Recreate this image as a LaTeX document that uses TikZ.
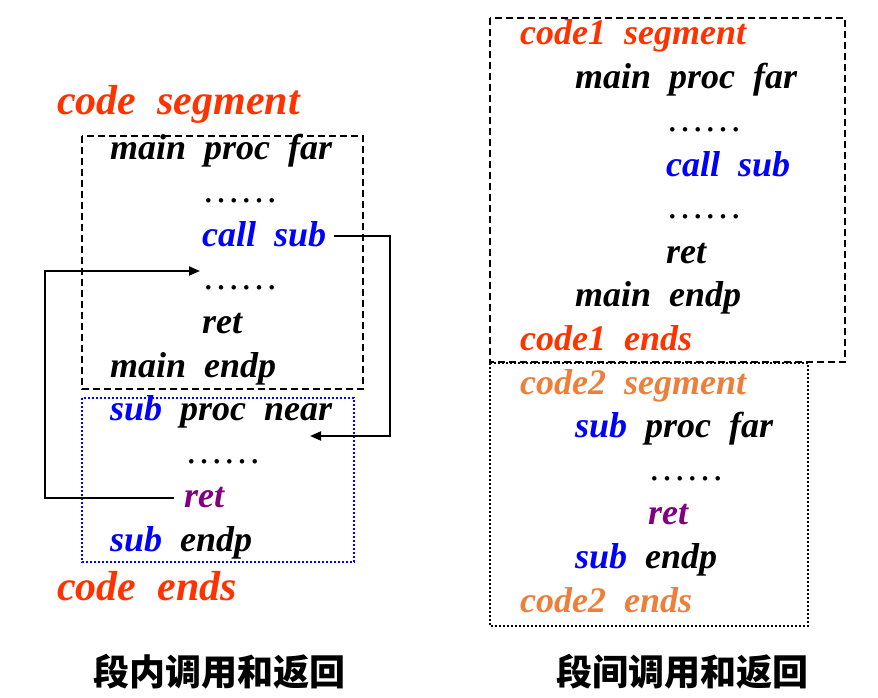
\documentclass[tikz,border=0pt]{standalone}
\usepackage{fontspec}
\setmainfont{Liberation Serif}
\newfontfamily\cjk{Noto Sans CJK SC}
\usetikzlibrary{arrows.meta}
\definecolor{segred}{HTML}{FF3300}
\definecolor{segorange}{HTML}{EE7F3A}
\definecolor{kwblue}{HTML}{0000FF}
\definecolor{retpurple}{HTML}{800080}
\newcommand\gap{\hspace{0.5em}}
\begin{document}
\begin{tikzpicture}[x=1pt,y=-1pt,
  code/.style={anchor=base west, inner sep=0pt, font=\fontsize{36}{40}\selectfont\bfseries\itshape},
  bigcode/.style={code, font=\fontsize{42}{46}\selectfont\bfseries\itshape},
  dotsline/.style={code, font=\fontsize{38}{40}\selectfont},
  caption/.style={inner sep=0pt, font=\cjk\bfseries\fontsize{36}{40}\selectfont},
  dashbox/.style={draw=black, line width=1.6pt, dash pattern=on 7pt off 4pt},
  dotbox/.style={line width=2pt, dash pattern=on 2pt off 2pt},
  arr/.style={draw=black, line width=1.8pt, -{Triangle[length=11pt,width=9pt]}}]
\useasboundingbox (0,0) rectangle (878,698);

% ---------- left ----------
\draw[dashbox] (82,136) rectangle (363,389);
\draw[dotbox, draw=kwblue] (82,398) rectangle (354,562);

\node[bigcode, text=segred] (lseg) at (57,115) {code\gap segment};
\node[code] (lmain) at (110,159.5) {main\gap proc\gap far};
\node[dotsline] (ldots1) at (202,202.5) {……};
\node[code, text=kwblue] (lcall) at (202,246.5) {call\gap sub};
\node[dotsline] (ldots2) at (202,289.5) {……};
\node[code] (lret1) at (202,333.5) {ret};
\node[code] (lmainend) at (110,377) {main\gap endp};
\node[code] (lsub) at (110,420.5) {\textcolor{kwblue}{sub}\gap proc\gap near};
\node[dotsline] (ldots3) at (185,463.5) {……};
\node[code, text=retpurple] (lret2) at (184,507.5) {ret};
\node[code] (lsubend) at (110,551) {\textcolor{kwblue}{sub}\gap endp};
\node[bigcode, text=segred] (lends) at (57,600) {code\gap ends};

\coordinate (cbend) at (390,236);
\coordinate (ctarget) at (310,436);
\draw[arr] (lcall.east |- cbend) ++(8,0) -- (cbend) |- (ctarget);

\coordinate (rbend) at (45,271);
\coordinate (rtarget) at (200,271);
\draw[arr] (lret2.west |- 0,498) ++(-10,0) -| (rbend) -- (rtarget);

% ---------- right ----------
\draw[dotbox, draw=black] (490,363) rectangle (808,626);
\draw[dashbox] (490,18) rectangle (845,362);

\node[code, text=segred] (rseg1) at (520,45) {code1\gap segment};
\node[code] (rmain) at (575,89) {main\gap proc\gap far};
\node[dotsline] (rdots1) at (666,131.5) {……};
\node[code, text=kwblue] (rcall) at (666,176) {call\gap sub};
\node[dotsline] (rdots2) at (666,218.5) {……};
\node[code] (rret1) at (666,263) {ret};
\node[code] (rmainend) at (575,306) {main\gap endp};
\node[code, text=segred] (rends1) at (520,350) {code1\gap ends};
\node[code, text=segorange] (rseg2) at (520,394) {code2\gap segment};
\node[code] (rsub) at (575,437) {\textcolor{kwblue}{sub}\gap proc\gap far};
\node[dotsline] (rdots3) at (648,480.5) {……};
\node[code, text=retpurple] (rret2) at (648,524) {ret};
\node[code] (rsubend) at (575,568) {\textcolor{kwblue}{sub}\gap endp};
\node[code, text=segorange] (rends2) at (520,612) {code2\gap ends};

% ---------- captions ----------
\node[caption] (capl) at (219,672) {段内调用和返回};
\node[caption] (capr) at (682,672) {段间调用和返回};
\end{tikzpicture}
\end{document}
